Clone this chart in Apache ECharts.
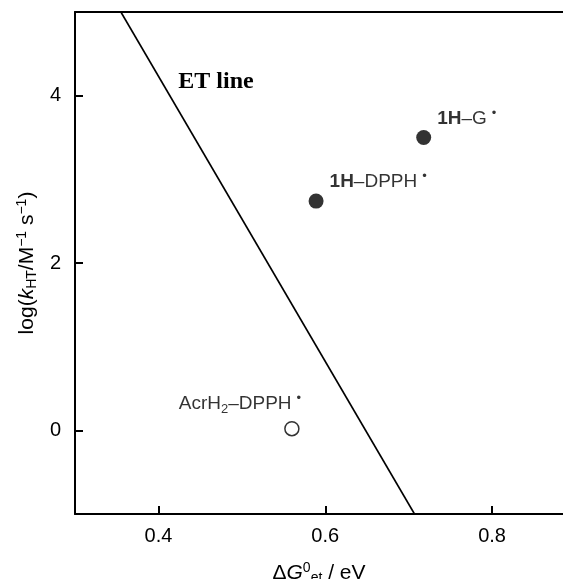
<!DOCTYPE html>
<html>
<head>
<meta charset="utf-8">
<script src="https://cdn.jsdelivr.net/npm/echarts@6/dist/echarts.min.js"></script>
<style>
html,body{margin:0;padding:0;background:#fff;}
#main{width:563px;height:579px;}
</style>
</head>
<body>
<div id="main"></div>
<script>
// filled points (1H donors)
var filledPts = [[0.589, 2.74, 'dpph'], [0.718, 3.50, 'g']];
// open point (AcrH2)
var openPts = [[0.560, 0.02, 'acr']];
// ET line end points
var etLine = [[0.355, 5.0], [0.707, -1.0]];
var etLabelAt = [0.469, 4.17];
var xTicks = [0.4, 0.6, 0.8];
var yTicks = [0, 2, 4];

var font = 'Liberation Sans';
var rich = {
    b: {fontFamily: font, fontWeight: 'bold', fontSize: 19, color: '#000'},
    n: {fontFamily: font, fontSize: 19, color: '#000'},
    sub: {fontFamily: font, fontSize: 13, color: '#000', verticalAlign: 'bottom', padding: [9, 0, 0, 0]},
    dot: {fontFamily: font, fontSize: 13, color: '#000', verticalAlign: 'top', padding: [0, 0, 11, 5]}
};

var labelText = {
    dpph: '{b|1H}{n|–DPPH}{dot|•}',
    g: '{b|1H}{n|–G}{dot|•}',
    acr: '{n|AcrH}{sub|2}{n|–DPPH}{dot|•}'
};

var myChart = echarts.init(document.getElementById('main'));

myChart.setOption({
    animation: false,
    textStyle: {fontFamily: font, color: '#000'},
    grid: {left: 75, right: 0, top: 12, bottom: 65, outerBoundsMode: 'none'},
    xAxis: [
        {
            type: 'value', min: 0.3, max: 0.885, position: 'bottom',
            name: '{n|Δ}{i|G}{sp|0}{sb|et}{n| / eV}',
            nameLocation: 'middle', nameGap: 47,
            nameTextStyle: {
                rich: {
                    n: {fontFamily: font, fontSize: 21, color: '#000'},
                    i: {fontFamily: font, fontSize: 21, fontStyle: 'italic', color: '#000'},
                    sp: {fontFamily: font, fontSize: 14, color: '#000', verticalAlign: 'top', padding: [0, 0, 10, 0]},
                    sb: {fontFamily: font, fontSize: 14, color: '#000', verticalAlign: 'bottom', padding: [10, 0, 0, 0]}
                }
            },
            axisLine: {onZero: false, lineStyle: {color: '#000', width: 2}},
            axisTick: {inside: true, length: 8, customValues: xTicks, lineStyle: {color: '#000', width: 2}},
            axisLabel: {customValues: xTicks, fontFamily: font, fontSize: 20, color: '#000', margin: 12,
                formatter: function(v){ return v.toFixed(1); }},
            splitLine: {show: false}
        },
        {
            type: 'value', min: 0.3, max: 0.885, position: 'top',
            axisLine: {onZero: false, lineStyle: {color: '#000', width: 2}},
            axisTick: {show: false}, axisLabel: {show: false}, splitLine: {show: false}
        }
    ],
    yAxis: {
        type: 'value', min: -1, max: 5,
        name: '{n|log(}{i|k}{sb|HT}{n|/M}{sp|−1}{n| s}{sp|−1}{n|)}',
        nameLocation: 'middle', nameGap: 32, nameRotate: 90,
        nameTextStyle: {
            rich: {
                n: {fontFamily: font, fontSize: 21, color: '#000'},
                i: {fontFamily: font, fontSize: 21, fontStyle: 'italic', color: '#000'},
                sp: {fontFamily: font, fontSize: 14, color: '#000', verticalAlign: 'top', padding: [0, 0, 10, 0]},
                sb: {fontFamily: font, fontSize: 14, color: '#000', verticalAlign: 'bottom', padding: [10, 0, 0, 0]}
            }
        },
        axisLine: {onZero: false, lineStyle: {color: '#000', width: 2}},
        axisTick: {inside: true, length: 8, customValues: yTicks, lineStyle: {color: '#000', width: 2}},
        axisLabel: {customValues: yTicks, fontFamily: font, fontSize: 20, color: '#000', margin: 14},
        splitLine: {show: false}
    },
    series: [
        {
            type: 'line',
            data: etLine,
            symbol: 'none',
            lineStyle: {color: '#000', width: 1.6},
            markPoint: {
                symbol: 'circle',
                symbolSize: 1,
                itemStyle: {color: 'rgba(0,0,0,0)'},
                data: [{coord: etLabelAt, value: 'ET line'}],
                label: {
                    show: true, position: 'inside', formatter: 'ET line',
                    fontFamily: 'Liberation Serif',
                    fontWeight: 'bold', fontSize: 24, color: '#000'
                }
            }
        },
        {
            type: 'scatter',
            data: filledPts,
            symbol: 'circle',
            symbolSize: 15,
            itemStyle: {color: '#000'},
            label: {
                show: true, position: 'right', offset: [1, -19],
                formatter: function(p){ return labelText[p.value[2]]; },
                rich: rich
            }
        },
        {
            type: 'scatter',
            data: openPts,
            symbol: 'circle',
            symbolSize: 14,
            itemStyle: {color: '#fff', borderColor: '#000', borderWidth: 1.5},
            label: {
                show: true, position: 'left', offset: [22, -25],
                formatter: function(p){ return labelText[p.value[2]]; },
                rich: rich
            }
        }
    ]
});
</script>
</body>
</html>
